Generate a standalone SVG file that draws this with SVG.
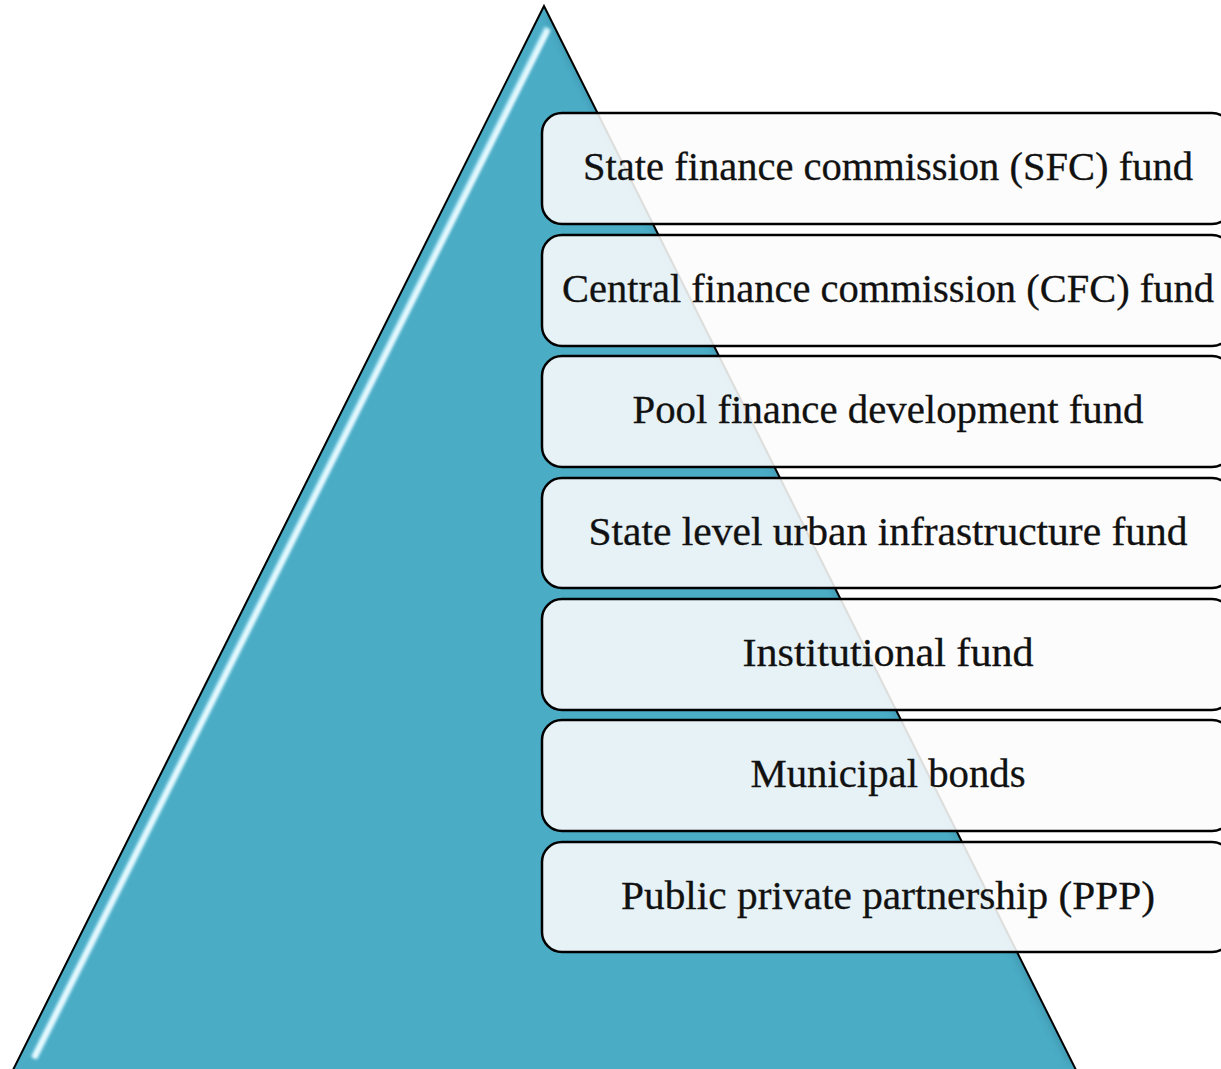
<svg xmlns="http://www.w3.org/2000/svg" width="1221" height="1069" viewBox="0 0 1221 1069">
<defs>
<style>
.box{fill:#fcfcfc;fill-opacity:0.88;stroke:#000;stroke-width:2.5}
.lbl{font-family:"Liberation Serif","Times New Roman",serif;font-size:40px;fill:#111;text-anchor:middle;stroke:#111;stroke-width:0.3}
</style>
<filter id="blur" x="-10%" y="-10%" width="120%" height="120%"><feGaussianBlur stdDeviation="1.5"/></filter>
<filter id="blur2" x="-10%" y="-10%" width="120%" height="120%"><feGaussianBlur stdDeviation="3"/></filter>
<clipPath id="tri"><polygon points="544,6 12,1072 1077,1072"/></clipPath>
</defs>
<rect width="1221" height="1069" fill="#fff"/>
<g id="pyramid">
<polygon points="544,6 12,1072 1077,1072" fill="#4bacc6"/>
<g clip-path="url(#tri)">
<line x1="548" y1="28" x2="34" y2="1058" stroke="#bfeefa" stroke-width="7" filter="url(#blur)"/>
<line x1="548" y1="30" x2="34" y2="1058" stroke="#ffffff" stroke-width="2.5" filter="url(#blur)"/>
<line x1="548" y1="12" x2="1072" y2="1064" stroke="#3a8da4" stroke-width="8" opacity="0.5" filter="url(#blur2)"/>
</g>
<polygon points="544,6 12,1072 1077,1072" fill="none" stroke="#000" stroke-width="2"/>
</g>
<g id="connectors"></g>
<g id="n1"><rect class="box" x="542" y="113" width="690" height="111" rx="20"/><text class="lbl" x="888" y="180" textLength="610" lengthAdjust="spacingAndGlyphs">State finance commission (SFC) fund</text></g>
<g id="n2"><rect class="box" x="542" y="235" width="690" height="111" rx="20"/><text class="lbl" x="888" y="302" textLength="652" lengthAdjust="spacingAndGlyphs">Central finance commission (CFC) fund</text></g>
<g id="n3"><rect class="box" x="542" y="356" width="690" height="111" rx="20"/><text class="lbl" x="888" y="423" textLength="511" lengthAdjust="spacingAndGlyphs">Pool finance development fund</text></g>
<g id="n4"><rect class="box" x="542" y="478" width="690" height="110" rx="20"/><text class="lbl" x="888" y="545" textLength="599" lengthAdjust="spacingAndGlyphs">State level urban infrastructure fund</text></g>
<g id="n5"><rect class="box" x="542" y="599" width="690" height="111" rx="20"/><text class="lbl" x="888" y="666" textLength="291" lengthAdjust="spacingAndGlyphs">Institutional fund</text></g>
<g id="n6"><rect class="box" x="542" y="720" width="690" height="111" rx="20"/><text class="lbl" x="888" y="787" textLength="275" lengthAdjust="spacingAndGlyphs">Municipal bonds</text></g>
<g id="n7"><rect class="box" x="542" y="842" width="690" height="110" rx="20"/><text class="lbl" x="888" y="909" textLength="534" lengthAdjust="spacingAndGlyphs">Public private partnership (PPP)</text></g>
</svg>
